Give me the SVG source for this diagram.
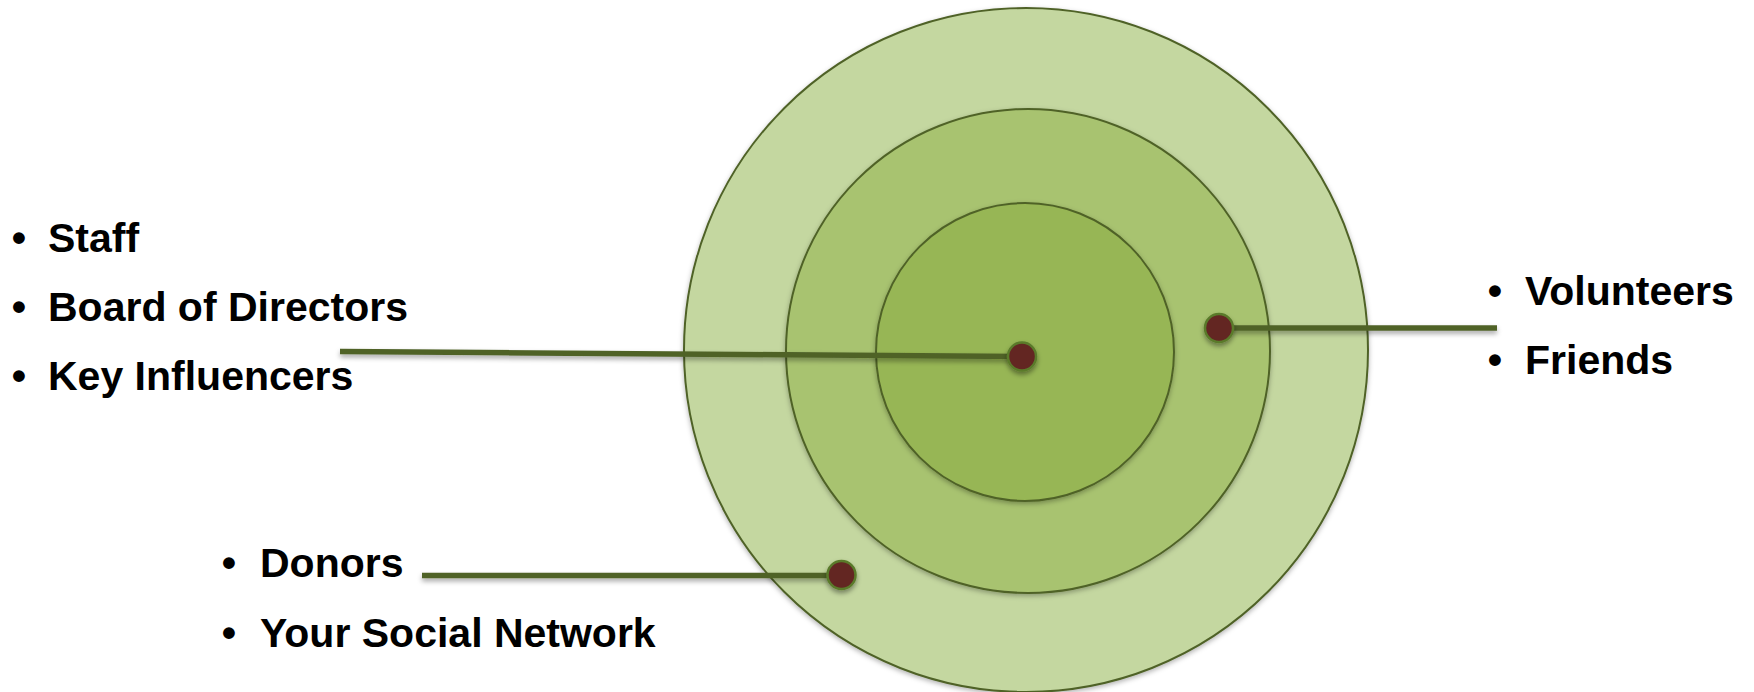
<svg xmlns="http://www.w3.org/2000/svg" width="1754" height="692" viewBox="0 0 1754 692">
  <defs>
    <filter id="ringShadow" x="-10%" y="-10%" width="120%" height="120%">
      <feDropShadow dx="0" dy="2" stdDeviation="2.5" flood-color="#000" flood-opacity="0.3"/>
    </filter>
    <filter id="lineShadow" x="-5%" y="-200%" width="110%" height="500%">
      <feDropShadow dx="0" dy="3" stdDeviation="2.5" flood-color="#000" flood-opacity="0.35"/>
    </filter>
    <filter id="dotShadow" x="-50%" y="-50%" width="200%" height="200%">
      <feDropShadow dx="0" dy="3" stdDeviation="2.5" flood-color="#000" flood-opacity="0.4"/>
    </filter>
  </defs>
  <style>
    .ring { stroke: #4f6228; stroke-width: 2; }
    .outer { fill: #c4d7a0; }
    .middle { fill: #a8c370; }
    .inner { fill: #97b654; }
    .link { stroke: #4f6228; stroke-width: 5.5; fill: none; }
    .dot { fill: #632523; stroke: #5a7a2a; stroke-width: 2.5; }
    .label { font-family: "Liberation Sans", Arial, sans-serif; font-weight: bold; font-size: 41px; fill: #000; }
    .bullet { text-anchor: middle; }
  </style>

  <!-- concentric circles -->
  <g id="ring-outer" filter="url(#ringShadow)">
    <circle class="ring outer" cx="1026" cy="350" r="342"/>
  </g>
  <g id="ring-middle" filter="url(#ringShadow)">
    <circle class="ring middle" cx="1028" cy="351" r="242"/>
  </g>
  <g id="ring-inner" filter="url(#ringShadow)">
    <circle class="ring inner" cx="1025" cy="352" r="149"/>
  </g>

  <!-- leader lines -->
  <g id="connectors" filter="url(#lineShadow)">
    <line class="link" x1="340" y1="351.5" x2="1021" y2="356.5"/>
    <line class="link" x1="1219" y1="328" x2="1497" y2="328"/>
    <line class="link" x1="422" y1="575.5" x2="841" y2="575.5"/>
  </g>

  <!-- markers on the rings -->
  <g id="dot-core" filter="url(#dotShadow)">
    <circle class="dot" cx="1022" cy="356.5" r="14"/>
  </g>
  <g id="dot-middle" filter="url(#dotShadow)">
    <circle class="dot" cx="1219" cy="328" r="14"/>
  </g>
  <g id="dot-outer" filter="url(#dotShadow)">
    <circle class="dot" cx="841.5" cy="575" r="14"/>
  </g>

  <!-- core group -->
  <g id="list-core">
    <text class="label bullet" x="19" y="252">•</text>
    <text class="label" x="48" y="252">Staff</text>
    <text class="label bullet" x="19" y="321">•</text>
    <text class="label" x="48" y="321">Board of Directors</text>
    <text class="label bullet" x="19" y="390">•</text>
    <text class="label" x="48" y="390">Key Influencers</text>
  </g>

  <!-- middle group -->
  <g id="list-middle">
    <text class="label bullet" x="1495" y="305">•</text>
    <text class="label" x="1525" y="305">Volunteers</text>
    <text class="label bullet" x="1495" y="374">•</text>
    <text class="label" x="1525" y="374">Friends</text>
  </g>

  <!-- outer group -->
  <g id="list-outer">
    <text class="label bullet" x="229" y="577">•</text>
    <text class="label" x="260" y="577">Donors</text>
    <text class="label bullet" x="229" y="647">•</text>
    <text class="label" x="260" y="647">Your Social Network</text>
  </g>
</svg>
